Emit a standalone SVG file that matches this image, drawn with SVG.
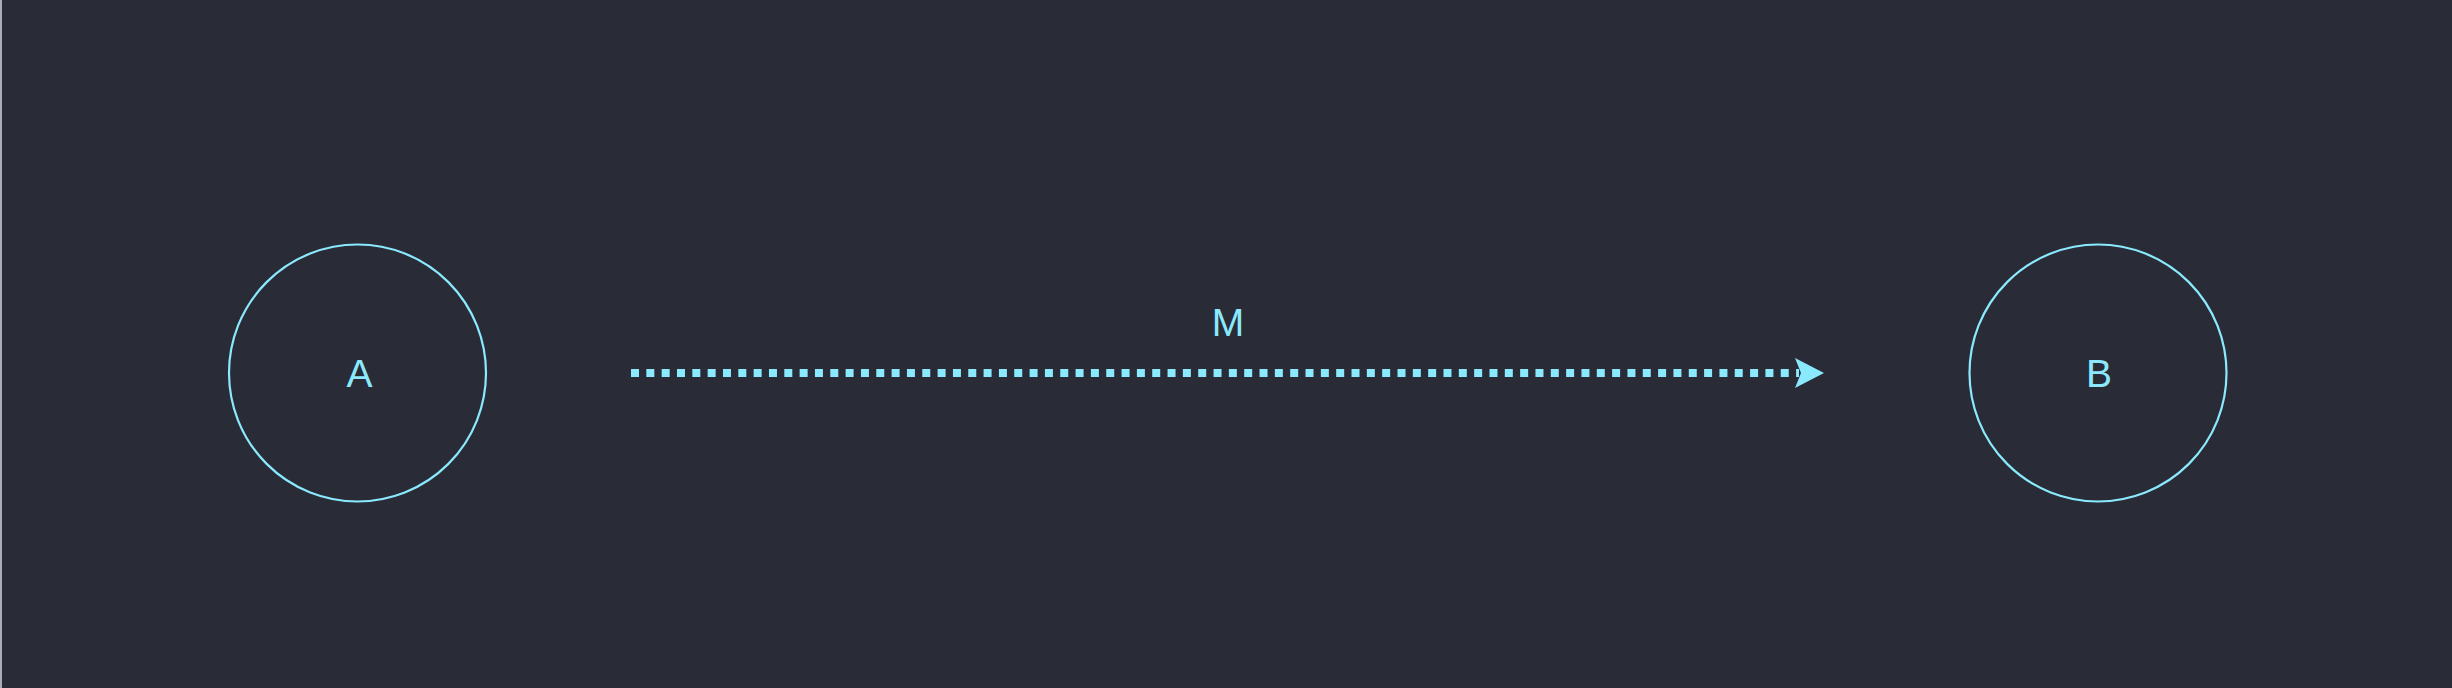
<svg xmlns="http://www.w3.org/2000/svg" width="2452" height="688" viewBox="0 0 2452 688">
<style>
.node{fill:none;stroke:#8be9fd;stroke-width:2.2}
.lbl{font-family:"Liberation Sans",Arial,sans-serif;font-size:39px;fill:#8be9fd;text-anchor:middle}
.edge{fill:none;stroke:#8be9fd;stroke-width:8;stroke-dasharray:8 7.33}
</style>
<defs>
<marker id="arr" markerUnits="userSpaceOnUse" markerWidth="40" markerHeight="40" refX="29" refY="15" orient="auto" viewBox="0 0 40 40">
<path d="M0,0 L29,15 L0,30 L6,15 Z" fill="#8be9fd"/>
</marker>
</defs>
<rect x="0" y="0" width="2452" height="688" fill="#292b37"/>
<rect x="0" y="0" width="2" height="688" fill="#a9adb6"/>
<g id="edges">
<path class="edge" d="M631,373 L1799,373"/>
<path d="M1795,358 L1824,373 L1795,388 L1801,373 Z" fill="#8be9fd"/>
<text class="lbl" x="1228" y="335.5">M</text>
</g>
<g id="node-A">
<circle class="node" cx="357.5" cy="373" r="128.5"/>
<text class="lbl" x="359.5" y="387">A</text>
</g>
<g id="node-B">
<circle class="node" cx="2098" cy="373" r="128.5"/>
<text class="lbl" x="2099" y="387">B</text>
</g>
</svg>
